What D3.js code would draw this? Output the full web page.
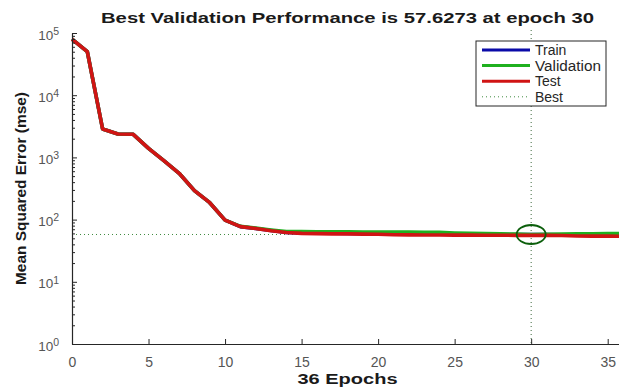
<!DOCTYPE html>
<html lang="en">
<head>
  <meta charset="UTF-8">
  <title>Best Validation Performance</title>
  <script src="https://cdn.jsdelivr.net/npm/d3@7"></script>
  <style>
    body { margin: 0; background: #fff; }
    svg { display: block; font-family: "Liberation Sans", Arial, sans-serif; }
  </style>
</head>
<body>
<div id="chart"></div>
<script>
  // Epochs and the mse per epoch for each set
  const epochs = [0, 1, 2, 3, 4, 5, 6, 7, 8, 9, 10, 11, 12, 13, 14, 15, 16, 17, 18,
    19, 20, 21, 22, 23, 24, 25, 26, 27, 28, 29, 30, 31, 32, 33, 34, 35, 36];
  const train = [80000, 50000, 2860, 2380, 2350, 1400, 885, 555, 292, 187, 98, 77, 72, 67, 62,
    61, 60.5, 60.2, 60, 59.8, 59.5, 59.3, 59, 58.8, 58.6, 58.3, 58, 57.8, 57.6, 57.5, 57.4,
    57.3, 57.2, 57.1, 57, 57, 56.9];
  const validation = [80000, 50000, 2860, 2380, 2350, 1400, 885, 555, 292, 187, 98, 78, 73, 68, 64,
    64, 63.8, 63.6, 63.5, 63.3, 63.2, 63, 62.8, 62.6, 62.3, 61, 60, 59.5, 59, 58.5, 57.63,
    58, 58.5, 59, 59.3, 59.5, 59.7];
  const test = [80000, 50000, 2860, 2380, 2350, 1400, 885, 555, 292, 187, 98, 77, 72, 66, 62,
    60, 59.5, 59, 59, 58.5, 58.2, 57, 56.8, 56.6, 56.5, 56.3, 56.2, 56, 56, 55.8, 55.8,
    55.7, 55.6, 54.5, 54.3, 54.2, 54];

  const bestEpoch = 30;
  const bestValue = 57.6273;

  const xTicks = [0, 5, 10, 15, 20, 25, 30, 35];
  const yTicks = [1, 10, 100, 1000, 10000, 100000];
  const legendNames = ['Train', 'Validation', 'Test', 'Best'];

  const W = 619, H = 390;
  const plotLeft = 72, plotRight = 623, plotTop = 33, plotBottom = 344;
  const axisColor = '#262626';

  const svg = d3.select('#chart').append('svg')
    .attr('width', W)
    .attr('height', H);

  const x = d3.scaleLinear().domain([0, 36]).range([plotLeft, plotRight]);
  const y = d3.scaleLog().domain([1, 1e5]).range([plotBottom, plotTop]);

  // minor ticks for the log axis
  const minor = [];
  yTicks.slice(0, -1).forEach(d => {
    for (let k = 2; k <= 9; k++) minor.push(d * k);
  });

  // best lines (dotted)
  svg.append('line')
    .attr('x1', plotLeft).attr('x2', plotRight)
    .attr('y1', y(bestValue)).attr('y2', y(bestValue))
    .attr('stroke', '#3f8a3f').attr('stroke-width', 1)
    .attr('stroke-dasharray', '1 3');
  svg.append('line')
    .attr('x1', x(bestEpoch)).attr('x2', x(bestEpoch))
    .attr('y1', plotTop - 3).attr('y2', plotBottom)
    .attr('stroke', '#3f6a3f').attr('stroke-width', 1)
    .attr('stroke-dasharray', '1 3');

  // the three curves
  const line = d3.line()
    .x((d, i) => x(epochs[i]))
    .y(d => y(d));

  const series = [
    { name: 'Train', values: train, color: '#0a0aa8' },
    { name: 'Validation', values: validation, color: '#1fb01f' },
    { name: 'Test', values: test, color: '#d01414' }
  ];

  series.forEach(s => {
    svg.append('path')
      .datum(s.values)
      .attr('fill', 'none')
      .attr('stroke', s.color)
      .attr('stroke-width', 3.6)
      .attr('stroke-linejoin', 'round')
      .attr('d', line);
  });

  // best marker
  svg.append('ellipse')
    .attr('cx', x(bestEpoch))
    .attr('cy', y(bestValue))
    .attr('rx', 14.5)
    .attr('ry', 9.5)
    .attr('fill', 'none')
    .attr('stroke', '#0b5e0b')
    .attr('stroke-width', 1.8);

  // x axis
  const gx = svg.append('g')
    .attr('transform', `translate(0,${plotBottom})`)
    .call(d3.axisBottom(x).tickValues(xTicks).tickSizeInner(-5).tickSizeOuter(0).tickPadding(13));
  gx.select('.domain').attr('stroke', axisColor).attr('stroke-width', 1.2);
  gx.selectAll('.tick line').attr('stroke', axisColor);
  gx.selectAll('.tick text')
    .attr('fill', '#555')
    .attr('font-size', 14);

  // y axis minor ticks
  const gm = svg.append('g')
    .attr('transform', `translate(${plotLeft},0)`)
    .call(d3.axisLeft(y).tickValues(minor).tickSizeInner(-3).tickSizeOuter(0).tickFormat(''));
  gm.select('.domain').remove();
  gm.selectAll('.tick line').attr('stroke', axisColor);

  // y axis major ticks
  const gy = svg.append('g')
    .attr('transform', `translate(${plotLeft},0)`)
    .call(d3.axisLeft(y).tickValues(yTicks).tickSizeInner(-5).tickSizeOuter(0).tickPadding(13).tickFormat(''));
  gy.select('.domain').attr('stroke', axisColor).attr('stroke-width', 1.2);
  gy.selectAll('.tick line').attr('stroke', axisColor);
  gy.selectAll('.tick text')
    .attr('fill', '#555')
    .attr('font-size', 13.5)
    .attr('dy', '0.45em')
    .each(function(d) {
      const t = d3.select(this);
      t.append('tspan').text('10');
      t.append('tspan')
        .attr('dy', '-0.45em')
        .attr('font-size', 10.5)
        .text(Math.round(Math.log10(d)));
    });

  // title and axis labels (stretched sideways like the original)
  svg.append('text')
    .attr('x', (plotLeft + plotRight) / 2)
    .attr('y', 23)
    .attr('text-anchor', 'middle')
    .attr('font-weight', 'bold')
    .attr('font-size', 15.5)
    .attr('fill', '#1a1a1a')
    .attr('textLength', 493)
    .attr('lengthAdjust', 'spacingAndGlyphs')
    .text(`Best Validation Performance is ${bestValue} at epoch ${bestEpoch}`);

  svg.append('text')
    .attr('x', (plotLeft + plotRight) / 2)
    .attr('y', 384)
    .attr('text-anchor', 'middle')
    .attr('font-weight', 'bold')
    .attr('font-size', 14.5)
    .attr('fill', '#1a1a1a')
    .attr('textLength', 100)
    .attr('lengthAdjust', 'spacingAndGlyphs')
    .text('36 Epochs');

  svg.append('text')
    .attr('transform', `translate(26,${(plotTop + plotBottom) / 2}) rotate(-90)`)
    .attr('text-anchor', 'middle')
    .attr('font-weight', 'bold')
    .attr('font-size', 14)
    .attr('fill', '#1a1a1a')
    .attr('textLength', 193)
    .attr('lengthAdjust', 'spacingAndGlyphs')
    .text('Mean Squared Error  (mse)');

  // legend
  const legend = svg.append('g').attr('transform', 'translate(476,41)');
  legend.append('rect')
    .attr('width', 130).attr('height', 65)
    .attr('fill', '#fff')
    .attr('stroke', axisColor).attr('stroke-width', 1);

  const legendColors = ['#0a0aa8', '#1fb01f', '#d01414', '#3f8a3f'];
  legendNames.forEach((name, i) => {
    const yy = 9 + i * 15.6;
    legend.append('line')
      .attr('x1', 6).attr('x2', 54)
      .attr('y1', yy).attr('y2', yy)
      .attr('stroke', legendColors[i])
      .attr('stroke-width', name === 'Best' ? 1 : 3)
      .attr('stroke-dasharray', name === 'Best' ? '1 3' : null);
    const txt = legend.append('text')
      .attr('x', 59).attr('y', yy + 5)
      .attr('font-size', 14)
      .attr('fill', '#262626')
      .text(name);
    if (name === 'Validation') {
      txt.attr('textLength', 66).attr('lengthAdjust', 'spacingAndGlyphs');
    }
  });
</script>
</body>
</html>
